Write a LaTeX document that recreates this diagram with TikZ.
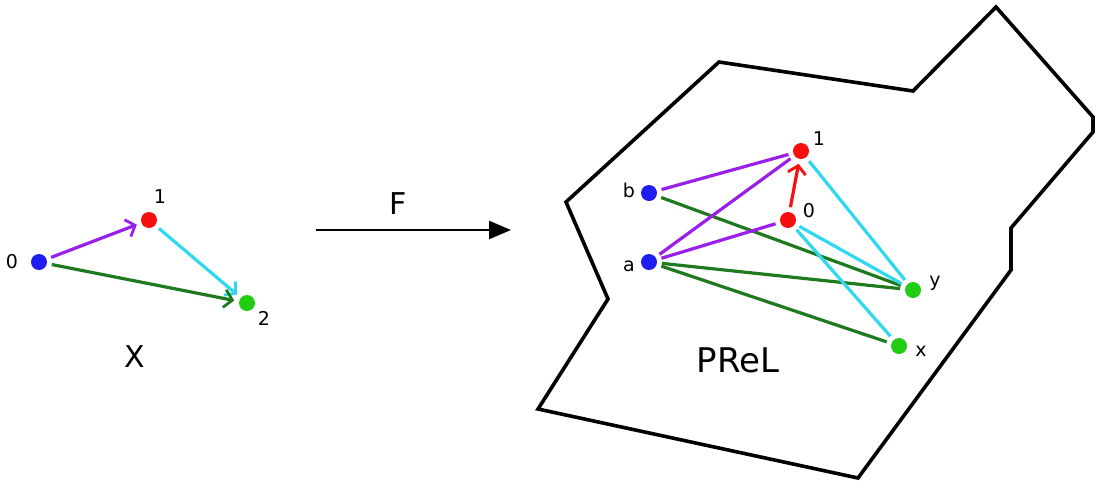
\documentclass[tikz,border=0pt]{standalone}
\usepackage{fontspec}
\setmainfont{DejaVu Sans}
\usetikzlibrary{arrows.meta}
\definecolor{cpurple}{HTML}{9A1FEA}
\definecolor{ccyan}{HTML}{2FD8EF}
\definecolor{cdgreen}{HTML}{1F7A1F}
\definecolor{cred}{HTML}{F50F0F}
\definecolor{cblue}{HTML}{1E1EF0}
\definecolor{cgreen}{HTML}{22CC12}
\tikzset{
  dot/.style={circle,fill=#1,inner sep=0pt,minimum size=16pt,outer sep=5pt},
  lbl/.style={font=\fontsize{19}{19}\selectfont},
  edge/.style={line width=3.2pt,draw=#1},
  arr/.style={line width=3.2pt,draw=#1,-{Straight Barb[length=8pt,width=18pt,line width=2.8pt]}},
  frame/.style={line width=3.6pt,line join=miter},
}
\begin{document}
\begin{tikzpicture}[x=1pt,y=-1pt]
\useasboundingbox (0,0) rectangle (1097,480);
% left graph
\node[dot=cblue] (l0) at (39,262) {};
\node[dot=cred] (l1) at (149,220) {};
\node[dot=cgreen] (l2) at (247,303) {};
\node[lbl] (tl0) at (12,262) {0};
\node[lbl] (tl1) at (160,197) {1};
\node[lbl] (tl2) at (264,318) {2};
\node[font=\fontsize{30}{30}\selectfont] (X) at (135,357) {X};
\draw[arr=cpurple] (l0) -- (l1);
\draw[arr=ccyan] (l1) -- (l2);
\draw[arr=cdgreen] (l0) -- (l2);
% functor arrow
\coordinate (fs) at (316,230);
\coordinate (fe) at (511,230);
\draw[line width=2.6pt,-{Triangle[length=22pt,width=18pt]}] (fs) -- (fe);
\node[font=\fontsize{30}{30}\selectfont] (F) at (398,204) {F};
% PRel region
\draw[frame] (719,62) -- (913,91) -- (996,7) -- (1093,117) -- (1093,132)
  -- (1011,228) -- (1011,270) -- (858,478) -- (538,409) -- (608,299)
  -- (566,202) -- cycle;
\node[font=\fontsize{34}{34}\selectfont] (PRel) at (738,360) {PReL};
% PRel graph
\node[dot=cred] (p1) at (801,151) {};
\node[dot=cred] (p0) at (788,220) {};
\node[dot=cblue] (pb) at (649,193) {};
\node[dot=cblue] (pa) at (649,262) {};
\node[dot=cgreen] (py) at (913,290) {};
\node[dot=cgreen] (px) at (899,346) {};
\node[lbl] (tp1) at (819,139) {1};
\node[lbl] (tp0) at (809,211) {0};
\node[lbl] (tpb) at (629,190) {b};
\node[lbl] (tpa) at (629,266) {a};
\node[lbl] (tpy) at (935,283) {y};
\node[lbl] (tpx) at (921,351) {x};
\draw[edge=cdgreen] (pb) -- (py);
\draw[edge=cdgreen] (pa) -- (py);
\draw[edge=cdgreen] (pa) -- (px);
\draw[edge=ccyan] (p1) -- (py);
\draw[edge=ccyan] (p0) -- (py);
\draw[edge=ccyan] (p0) -- (px);
\draw[edge=cpurple] (pb) -- (p1);
\draw[edge=cpurple] (pa) -- (p1);
\draw[edge=cpurple] (pa) -- (p0);
\draw[arr=cred] (p0) -- (p1);
\end{tikzpicture}
\end{document}
